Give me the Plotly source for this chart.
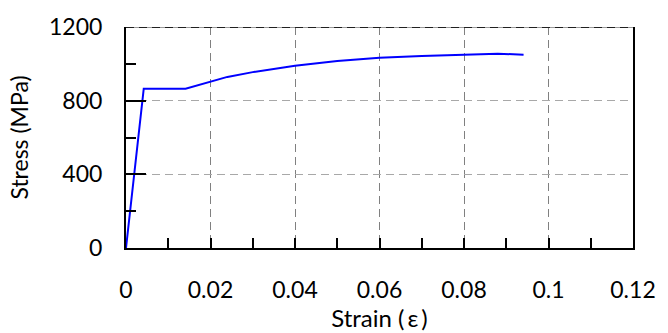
import plotly.graph_objects as go

strain = [0, 0.0042, 0.0141, 0.02, 0.024, 0.03, 0.04, 0.05, 0.06, 0.07, 0.08, 0.088, 0.0941]
stress = [0, 865, 865, 905, 929, 955, 990, 1015, 1033, 1043, 1050, 1055, 1050]

x_ticks = [0, 0.02, 0.04, 0.06, 0.08, 0.1, 0.12]
x_labels = ["0", "0.02", "0.04", "0.06", "0.08", "0.1", "0.12"]
y_ticks = [0, 400, 800, 1200]

FONT = "Lato"

fig = go.Figure()
fig.add_trace(go.Scatter(x=strain, y=stress, mode="lines",
                         line=dict(color="#0000ff", width=2), showlegend=False))

# top border: gray line with dark dashes
fig.add_shape(type="line", xref="x", yref="y", x0=0, x1=0.12, y0=1200, y1=1200,
              line=dict(color="#9a9a9a", width=2), layer="above")
fig.add_shape(type="line", xref="x", yref="y", x0=0, x1=0.12, y0=1200, y1=1200,
              line=dict(color="#202020", width=2, dash="8px,5px"), layer="above")

fig.update_layout(
    width=668, height=333,
    margin=dict(l=126, r=25, t=18, b=85),
    paper_bgcolor="white", plot_bgcolor="white",
    font=dict(family=FONT, size=23, color="black"),
)
fig.update_xaxes(
    range=[0, 0.12], tickvals=x_ticks, ticktext=x_labels,
    showline=True, linecolor="black", linewidth=2, mirror=False,
    ticks="inside", ticklen=10, tickwidth=1.5, tickcolor="black",
    minor=dict(dtick=0.01, tick0=0, ticks="inside", ticklen=10, tickwidth=1.5,
               tickcolor="black", showgrid=False),
    showgrid=True, gridcolor="#808080", gridwidth=1, griddash="8px,5px",
    zeroline=False, ticklabelstandoff=20,
    title=dict(text="Strain (\u2009ε\u2009)", font=dict(size=24), standoff=1),
)
fig.update_yaxes(
    range=[0, 1200], tickvals=y_ticks,
    showline=True, linecolor="black", linewidth=2, mirror=True,
    ticks="inside", ticklen=20, tickwidth=1.5, tickcolor="black",
    minor=dict(dtick=200, tick0=0, ticks="inside", ticklen=10, tickwidth=1.5,
               tickcolor="black", showgrid=False),
    showgrid=True, gridcolor="#a8a8a8", gridwidth=1, griddash="8px,5px",
    zeroline=False, ticklabelstandoff=17,
    title=dict(text="Stress (MPa)", font=dict(size=23), standoff=14),
)

fig.write_html("out.html")
